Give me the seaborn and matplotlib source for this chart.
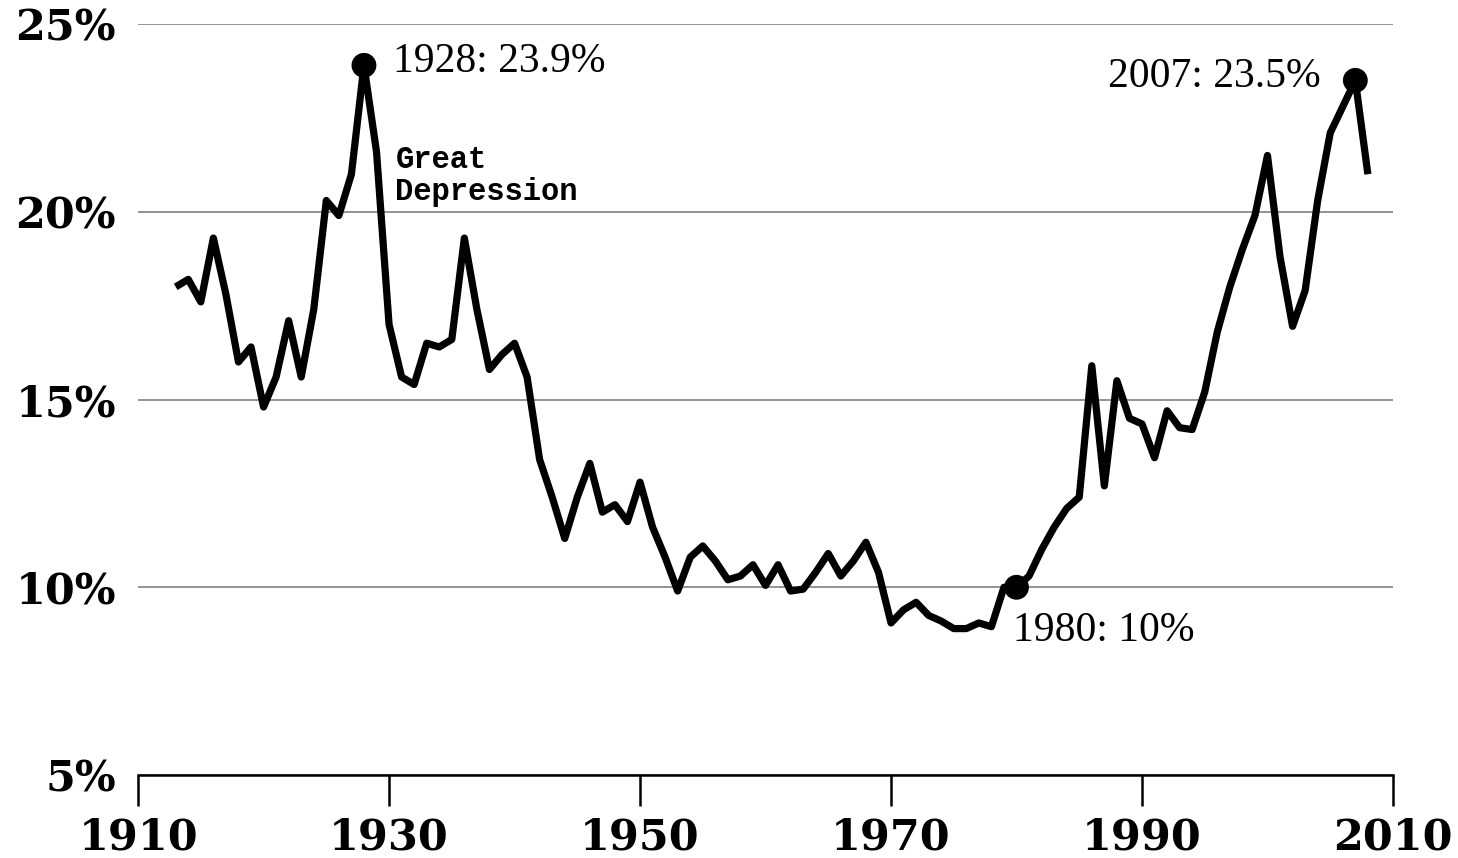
import matplotlib

matplotlib.use("Agg")
import matplotlib.pyplot as plt
import numpy as np
import pandas as pd
import seaborn as sns

# Top 1% income share (%), one value per year
years = list(range(1913, 2009))
share = [
    18.0, 18.2, 17.6, 19.3, 17.8, 16.0, 16.4, 14.8, 15.6, 17.1,  # 1913-1922
    15.6, 17.4, 20.3, 19.9, 21.0, 23.9, 21.6, 17.0, 15.6, 15.4,  # 1923-1932
    16.5, 16.4, 16.6, 19.3, 17.4, 15.8, 16.2, 16.5, 15.6, 13.4,  # 1933-1942
    12.4, 11.3, 12.4, 13.3, 12.0, 12.2, 11.75, 12.8, 11.6, 10.8,  # 1943-1952
    9.9, 10.8, 11.1, 10.7, 10.2, 10.3, 10.6, 10.05, 10.6, 9.9,  # 1953-1962
    9.95, 10.4, 10.9, 10.3, 10.7, 11.2, 10.4, 9.05, 9.4, 9.6,  # 1963-1972
    9.25, 9.1, 8.9, 8.9, 9.05, 8.95, 10.0, 10.0, 10.3, 11.0,  # 1973-1982
    11.6, 12.1, 12.4, 15.9, 12.7, 15.5, 14.5, 14.35, 13.45, 14.7,  # 1983-1992
    14.25, 14.2, 15.2, 16.8, 18.0, 19.0, 19.9, 21.5, 18.8, 16.95,  # 1993-2002
    17.9, 20.3, 22.1, 22.8, 23.5, 21.0,  # 2003-2008
]

marked_years = [1928, 1980, 2007]
marked_labels = ["1928: 23.9%", "1980: 10%", "2007: 23.5%"]

x_ticks = [1910, 1930, 1950, 1970, 1990, 2010]
y_ticks = [5, 10, 15, 20, 25]

sns.set_theme(style="white")
plt.rcParams["font.family"] = ["DejaVu Serif", "DejaVu Sans"]
plt.rcParams["xtick.bottom"] = True

df = pd.DataFrame({"year": years, "share": share})
marks = df[df["year"].isin(marked_years)]

fig = plt.figure(figsize=(14.58, 8.58), dpi=100)
ax = fig.add_axes([0.0947, 0.0967, 0.8607, 0.8753])

ax.grid(axis="y", color="#808080", linewidth=1.2)
ax.set_axisbelow(True)

sns.lineplot(data=df, x="year", y="share", color="black", linewidth=5.2,
             ax=ax, solid_joinstyle="round", solid_capstyle="butt")
sns.scatterplot(data=marks, x="year", y="share", color="black", s=320,
                edgecolor="none", ax=ax, zorder=5)

ax.set_xlim(1910, 2010)
ax.set_ylim(5, 25)
ax.set_xticks(x_ticks)
ax.set_yticks(y_ticks)
ax.set_yticklabels([f"{v}%" for v in y_ticks])
ax.set_xlabel("")
ax.set_ylabel("")

for side in ["left", "right", "top"]:
    ax.spines[side].set_visible(False)
ax.spines["bottom"].set_color("black")
ax.spines["bottom"].set_linewidth(1.8)

ax.tick_params(axis="x", bottom=True, direction="out", length=22, width=1.8,
               color="black", pad=8, labelsize=31, labelcolor="black")
ax.tick_params(axis="y", left=False, length=0, pad=16, labelsize=31,
               labelcolor="black")
for lbl in ax.get_xticklabels() + ax.get_yticklabels():
    lbl.set_fontweight("bold")

label_font = dict(family=["Liberation Serif", "DejaVu Serif"], fontsize=30,
                  color="black")
ax.text(1930.3, 24.0, marked_labels[0], ha="left", va="center", **label_font)
ax.text(1979.7, 8.83, marked_labels[1], ha="left", va="center", **label_font)
ax.text(2004.2, 23.6, marked_labels[2], ha="right", va="center", **label_font)

ax.text(1930.5, 21.78, "Great\nDepression", ha="left", va="top",
        family=["Liberation Mono", "DejaVu Sans Mono"], fontsize=22,
        fontweight="bold", linespacing=1.08, color="black")

fig.savefig("out.png", dpi=100)
plt.close(fig)
